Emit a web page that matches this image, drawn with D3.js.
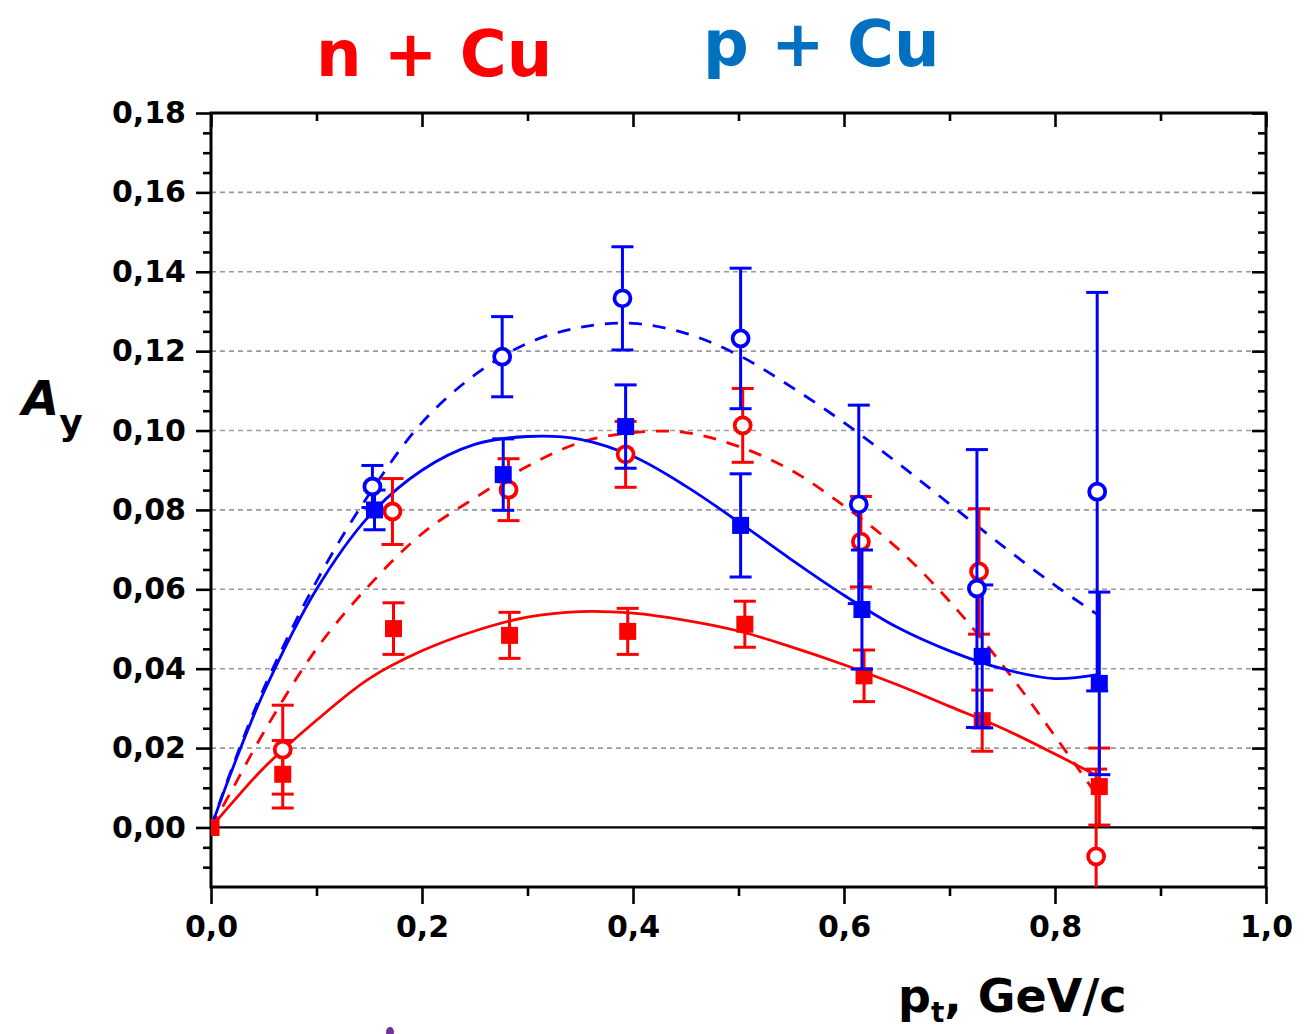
<!DOCTYPE html>
<html>
<head>
<meta charset="utf-8">
<script src="https://cdn.jsdelivr.net/npm/d3@7"></script>
<style>
html,body{margin:0;padding:0;background:#fff;}
svg{display:block;}
</style>
</head>
<body>
<svg id="chart" width="1307" height="1034"></svg>
<script>
// ---------- data ----------
const xTicks = [0, 0.2, 0.4, 0.6, 0.8, 1.0];
const xTickLabels = ["0,0", "0,2", "0,4", "0,6", "0,8", "1,0"];
const yTicks = [0, 0.02, 0.04, 0.06, 0.08, 0.10, 0.12, 0.14, 0.16, 0.18];
const yTickLabels = ["0,00", "0,02", "0,04", "0,06", "0,08", "0,10", "0,12", "0,14", "0,16", "0,18"];

// n + Cu, filled squares
const nSqX   = [0.000, 0.068, 0.173, 0.283, 0.395, 0.506, 0.619, 0.731, 0.842];
const nSqY   = [0.000, 0.0134, 0.0501, 0.0484, 0.0494, 0.0512, 0.0382, 0.0269, 0.0103];
const nSqErr = [0, 0.0085, 0.0065, 0.0058, 0.0058, 0.0058, 0.0065, 0.0077, 0.0097];
// n + Cu, open circles
const nCiX   = [0.068, 0.172, 0.282, 0.393, 0.504, 0.616, 0.728, 0.839];
const nCiY   = [0.0196, 0.0796, 0.0851, 0.0940, 0.1013, 0.0720, 0.0645, -0.0073];
const nCiErr = [0.0112, 0.0083, 0.0078, 0.0083, 0.0093, 0.0114, 0.0158, 0.0220];
// p + Cu, filled squares
const pSqX   = [0.155, 0.277, 0.393, 0.502, 0.617, 0.731, 0.842];
const pSqY   = [0.0800, 0.0889, 0.1010, 0.0761, 0.0549, 0.0431, 0.0363];
const pSqErr = [0.0050, 0.0090, 0.0105, 0.0130, 0.0150, 0.0180, 0.0230];
// p + Cu, open circles
const pCiX   = [0.153, 0.276, 0.390, 0.502, 0.614, 0.726, 0.840];
const pCiY   = [0.0859, 0.1186, 0.1333, 0.1232, 0.0814, 0.0602, 0.0846];
const pCiErr = [0.0053, 0.0101, 0.0130, 0.0177, 0.0250, 0.0350, 0.0502];

// fitted curves
const curveX   = [0, 0.02, 0.05, 0.1, 0.15, 0.2, 0.25, 0.3, 0.35, 0.4, 0.45, 0.5, 0.55, 0.6, 0.65, 0.7, 0.75, 0.8, 0.84];
const pSolidY  = [0, 0.0145, 0.034, 0.060, 0.0785, 0.090, 0.0965, 0.0985, 0.0978, 0.0935, 0.086, 0.0770, 0.0675, 0.0585, 0.0505, 0.0445, 0.0400, 0.0375, 0.0385];
const pDashY   = [0, 0.0150, 0.035, 0.062, 0.0840, 0.102, 0.1140, 0.1220, 0.1260, 0.1270, 0.1245, 0.1190, 0.1110, 0.1020, 0.0920, 0.0815, 0.0710, 0.0610, 0.0537];
const nSolidY  = [0, 0.0062, 0.015, 0.027, 0.0375, 0.0445, 0.0495, 0.0530, 0.0544, 0.0540, 0.0522, 0.0495, 0.0455, 0.0410, 0.0360, 0.0305, 0.0250, 0.0185, 0.0130];
const nDashY   = [0, 0.0095, 0.024, 0.045, 0.0610, 0.074, 0.0830, 0.0910, 0.0970, 0.0995, 0.0995, 0.0960, 0.0900, 0.0810, 0.0705, 0.0570, 0.0410, 0.0230, 0.0080];

// ---------- layout ----------
const RED = "#ff0000", BLUE = "#0000ff";
const svg = d3.select("#chart");
const L = 211, R = 1266, T = 113, B = 887;
const x = d3.scaleLinear().domain([0, 1]).range([L, R]);
const y = d3.scaleLinear().domain([-0.015, 0.18]).range([B, T]);

// grid lines
svg.append("g").selectAll("line").data(yTicks.filter(v => v > 0 && v < 0.18)).join("line")
  .attr("x1", L).attr("x2", R).attr("y1", d => y(d)).attr("y2", d => y(d))
  .attr("stroke", "#9a9a9a").attr("stroke-width", 1.6).attr("stroke-dasharray", "5,4");

// zero line
svg.append("line").attr("x1", L).attr("x2", R).attr("y1", y(0)).attr("y2", y(0))
  .attr("stroke", "#000").attr("stroke-width", 2.2);

// axes
const fontAxis = "'DejaVu Sans', Verdana, sans-serif";
const bottomAxis = d3.axisBottom(x).tickValues(xTicks).tickFormat((d, i) => xTickLabels[i]).tickSize(17).tickPadding(12);
const gB = svg.append("g").attr("transform", `translate(0,${B})`).call(bottomAxis);
const bottomMinor = d3.axisBottom(x).tickValues([0.1, 0.3, 0.5, 0.7, 0.9]).tickFormat("").tickSize(9);
const gBm = svg.append("g").attr("transform", `translate(0,${B})`).call(bottomMinor);
const leftAxis = d3.axisLeft(y).tickValues(yTicks).tickFormat((d, i) => yTickLabels[i]).tickSize(15).tickPadding(10);
const gL = svg.append("g").attr("transform", `translate(${L},0)`).call(leftAxis);
const yMinorVals = d3.range(-0.01, 0.18, 0.005).map(v => +v.toFixed(3)).filter(v => Math.abs(Math.round(v / 0.02) * 0.02 - v) > 1e-6);
const gLm = svg.append("g").attr("transform", `translate(${L},0)`).call(d3.axisLeft(y).tickValues(yMinorVals).tickFormat("").tickSize(8));
// right (inward)
const gR = svg.append("g").attr("transform", `translate(${R},0)`).call(d3.axisLeft(y).tickValues(yTicks).tickFormat("").tickSize(14));
const gRm = svg.append("g").attr("transform", `translate(${R},0)`).call(d3.axisLeft(y).tickValues(yMinorVals).tickFormat("").tickSize(8));
// top (inward)
const gT = svg.append("g").attr("transform", `translate(0,${T})`).call(d3.axisBottom(x).tickValues(xTicks).tickFormat("").tickSize(14));
const gTm = svg.append("g").attr("transform", `translate(0,${T})`).call(d3.axisBottom(x).tickValues([0.1, 0.3, 0.5, 0.7, 0.9]).tickFormat("").tickSize(8));

[gB, gBm, gL, gLm, gR, gRm, gT, gTm].forEach(g => {
  g.select(".domain").remove();
  g.selectAll(".tick line").attr("stroke", "#000").attr("stroke-width", 2.6);
  g.selectAll("text").attr("fill", "#000").attr("font-family", fontAxis)
    .attr("font-weight", "bold").attr("font-size", 30);
});

// frame
svg.append("rect").attr("x", L).attr("y", T).attr("width", R - L).attr("height", B - T)
  .attr("fill", "none").attr("stroke", "#000").attr("stroke-width", 3);

// clip for plot contents
svg.append("clipPath").attr("id", "clip").append("rect")
  .attr("x", L).attr("y", T).attr("width", R - L).attr("height", B - T);
const plot = svg.append("g").attr("clip-path", "url(#clip)");

// curves
const line = d3.line().curve(d3.curveCatmullRom.alpha(0.5));
function drawCurve(ys, color, dashed) {
  plot.append("path")
    .attr("d", line(curveX.map((v, i) => [x(v), y(ys[i])])))
    .attr("fill", "none").attr("stroke", color).attr("stroke-width", 2.8)
    .attr("stroke-dasharray", dashed ? "13,11" : null);
}
drawCurve(nSolidY, RED, false);
drawCurve(nDashY, RED, true);
drawCurve(pSolidY, BLUE, false);
drawCurve(pDashY, BLUE, true);

// error bars and markers
function errorBars(xs, ys, es, color) {
  const g = plot.append("g").attr("stroke", color).attr("stroke-width", 3);
  xs.forEach((xv, i) => {
    if (!es[i]) return;
    const cx = x(xv), y1 = y(ys[i] + es[i]), y2 = y(ys[i] - es[i]);
    g.append("line").attr("x1", cx).attr("x2", cx).attr("y1", y1).attr("y2", y2);
    g.append("line").attr("x1", cx - 11).attr("x2", cx + 11).attr("y1", y1).attr("y2", y1);
    g.append("line").attr("x1", cx - 11).attr("x2", cx + 11).attr("y1", y2).attr("y2", y2);
  });
}
function squares(xs, ys, color) {
  plot.append("g").selectAll("rect").data(xs).join("rect")
    .attr("x", (d) => x(d) - 8.5).attr("y", (d, i) => y(ys[i]) - 8.5)
    .attr("width", 17).attr("height", 17).attr("fill", color);
}
function circles(xs, ys, color) {
  plot.append("g").selectAll("circle").data(xs).join("circle")
    .attr("cx", d => x(d)).attr("cy", (d, i) => y(ys[i])).attr("r", 8)
    .attr("fill", "#fff").attr("stroke", color).attr("stroke-width", 3.8);
}

errorBars(nSqX, nSqY, nSqErr, RED);
squares(nSqX, nSqY, RED);
errorBars(nCiX, nCiY, nCiErr, RED);
circles(nCiX, nCiY, RED);
errorBars(pSqX, pSqY, pSqErr, BLUE);
squares(pSqX, pSqY, BLUE);
errorBars(pCiX, pCiY, pCiErr, BLUE);
circles(pCiX, pCiY, BLUE);

// titles
const fontTitle = "'Comic Sans MS', 'DejaVu Sans', sans-serif";
svg.append("text").attr("x", 316).attr("y", 76).attr("fill", RED)
  .attr("font-family", fontTitle).attr("font-weight", "bold").attr("font-size", 64)
  .text("n + Cu");
svg.append("text").attr("x", 703).attr("y", 66).attr("fill", "#0070c0")
  .attr("font-family", fontTitle).attr("font-weight", "bold").attr("font-size", 64)
  .text("p + Cu");

// y-axis title
const ay = svg.append("text").attr("x", 22).attr("y", 415).attr("fill", "#000")
  .attr("font-family", fontTitle).attr("font-weight", "bold").attr("font-style", "italic").attr("font-size", 48);
ay.append("tspan").text("A");
ay.append("tspan").attr("font-size", 36).attr("dy", 20).attr("font-style", "normal").text("y");

// x-axis title
const xt = svg.append("text").attr("x", 898).attr("y", 1012).attr("fill", "#000")
  .attr("font-family", fontTitle).attr("font-weight", "bold").attr("font-size", 46);
xt.append("tspan").text("p");
xt.append("tspan").attr("font-size", 28).attr("dy", 10).text("t");
xt.append("tspan").attr("dy", -10).text(", ");
xt.append("tspan").text("GeV/c");

// small purple mark at bottom edge
svg.append("ellipse").attr("cx", 390).attr("cy", 1032).attr("rx", 4).attr("ry", 5).attr("fill", "#7030a0");
</script>
</body>
</html>
